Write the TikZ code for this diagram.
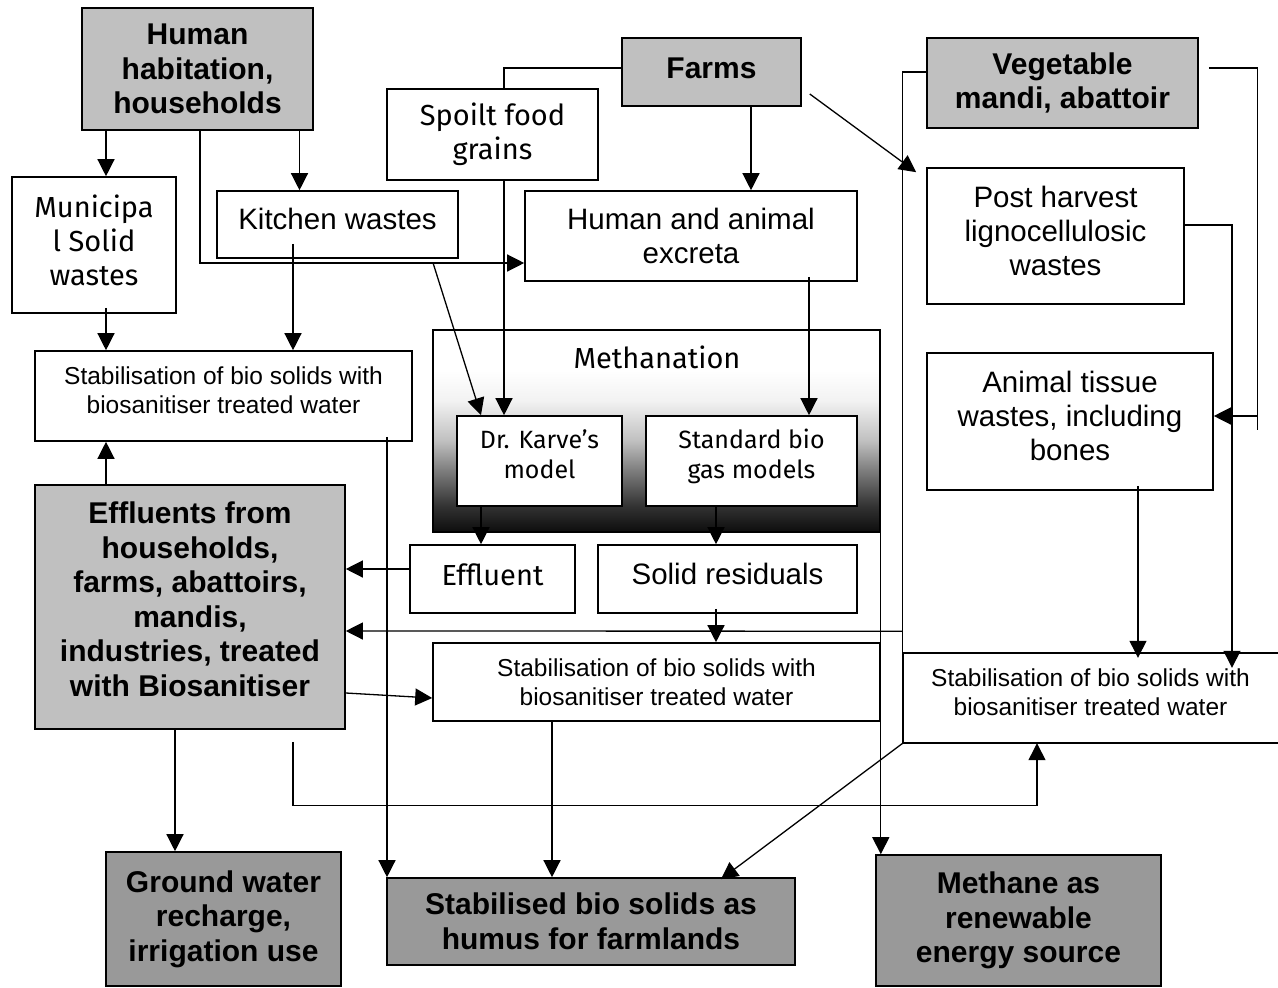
\documentclass[tikz,border=0pt]{standalone}
\usepackage{fontspec}
\setmainfont{Liberation Sans}
\newfontfamily\firafont{Fira Sans}
\usetikzlibrary{arrows.meta}
\definecolor{lightg}{HTML}{C0C0C0}
\definecolor{darkg}{HTML}{999999}
\pgfdeclareverticalshading{methshade}{100bp}{color(0bp)=(black); color(25bp)=(black!95); color(31.5bp)=(black!80); color(40.5bp)=(black!50); color(47.5bp)=(black!25); color(57.5bp)=(black!5); color(65bp)=(white); color(100bp)=(white)}
\newcommand\lift[1]{\rule[-#1]{0pt}{#1}}
\tikzset{
  base/.style={inner sep=0pt, align=center},
  bx/.style={base, draw=black, line width=1.6pt, fill=white},
  gbox/.style={bx, fill=lightg, font=\bfseries\fontsize{30}{34.5}\selectfont},
  dbox/.style={bx, fill=darkg, font=\bfseries\fontsize{30}{34.5}\selectfont},
  atext/.style={font=\fontsize{29.5}{34}\selectfont},
  ftext/.style={font=\firafont\fontsize{29}{34}\selectfont},
  fstext/.style={font=\firafont\fontsize{25}{30}\selectfont},
  stext/.style={font=\fontsize{24.5}{29}\selectfont},
  ln/.style={line width=1.3pt},
  arr/.style={line width=1.3pt, -{Triangle[length=17pt,width=17pt]}},
  edge/.style={line width=1.6pt}
}
\begin{document}
\begin{tikzpicture}[x=1pt,y=-1pt]
\useasboundingbox (0,0) rectangle (1278,988);

% methanation container
\node[base, draw=black, line width=1.6pt, shade, shading=methshade, minimum width=447, minimum height=202] (meth) at (656.5,431) {};
\node[base, ftext] (methtitle) at (657,357) {Methanation};

% boxes
\node[gbox, minimum width=231, minimum height=122] (hh) at (197.5,69) {Human\\habitation,\\households};
\node[bx, ftext, minimum width=164, minimum height=136] (msw) at (94,245) {Municipa\\l Solid\\wastes\lift{10pt}};
\node[bx, atext, minimum width=241, minimum height=67] (kw) at (337.5,224.5) {Kitchen wastes\lift{12pt}};
\node[bx, ftext, minimum width=211, minimum height=91] (sfg) at (492.5,134.5) {Spoilt food\\grains};
\node[gbox, minimum width=179, minimum height=68] (farms) at (711.5,72) {Farms\lift{8pt}};
\node[bx, atext, minimum width=332, minimum height=90] (hae) at (691,236) {Human and animal\\excreta};
\node[gbox, minimum width=271, minimum height=90] (vm) at (1062.5,83) {Vegetable\\mandi, abattoir};
\node[bx, atext, minimum width=257, minimum height=136] (ph) at (1055.5,236) {Post harvest\\lignocellulosic\\wastes\lift{10pt}};
\node[bx, atext, minimum width=286, minimum height=137] (at) at (1070,421.5) {Animal tissue\\wastes, including\\bones\lift{12pt}};
\node[bx, stext, minimum width=377, minimum height=90] (st1) at (223.5,396) {Stabilisation of bio solids with\\biosanitiser treated water\lift{12pt}};
\node[bx, fstext, minimum width=165, minimum height=90] (dk) at (539.5,461) {Dr. Karve’s\\model\lift{14pt}};
\node[bx, fstext, minimum width=211, minimum height=90] (sb) at (751.5,461) {Standard bio\\gas models\lift{15pt}};
\node[bx, ftext, minimum width=165, minimum height=68] (ef) at (492.5,579) {Effluent\lift{8pt}};
\node[bx, atext, minimum width=259, minimum height=68] (sr) at (727.5,579) {Solid residuals\lift{10pt}};
\node[gbox, minimum width=310, minimum height=244] (efh) at (190,607) {Effluents from\\households,\\farms, abattoirs,\\mandis,\\industries, treated\\with Biosanitiser\lift{16pt}};
\node[bx, stext, minimum width=447, minimum height=78] (st2) at (656.5,682) {Stabilisation of bio solids with\\biosanitiser treated water};
\node[base, stext, minimum width=375, minimum height=90] (st3) at (1090.5,698) {Stabilisation of bio solids with\\biosanitiser treated water\lift{12pt}};
\draw[edge] (st3.north east) -- (st3.north west) -- (st3.south west) -- (st3.south east);
\node[dbox, minimum width=235, minimum height=134] (gw) at (223.5,919) {Ground water\\recharge,\\irrigation use};
\node[dbox, minimum width=408, minimum height=87] (sbs) at (591,921.5) {Stabilised bio solids as\\humus for farmlands};
\node[dbox, minimum width=285, minimum height=131] (mth) at (1018.5,920.5) {Methane as\\renewable\\energy source};

% connectors
\draw[arr] ([xshift=12]msw.north |- hh.south) -- ([xshift=12]msw.north);
\draw[arr] ([xshift=-38]kw.north |- hh.south) -- ([xshift=-38]kw.north);
\draw[arr] ([xshift=2.5]hh.south) |- ([yshift=-27]hae.west);
\draw[arr] ([xshift=39.5]farms.south) -- ([xshift=39.5]farms.south |- hae.north);
\draw[ln] ([yshift=4]farms.west) -| ([xshift=11.5]sfg.north);
\draw[arr] ([xshift=11.5]sfg.south) -- ([xshift=11.5]sfg.south |- dk.north);
\draw[arr] ([xshift=95.5,yshift=-4]kw.south) -- ([xshift=-58.5]dk.north);
\draw[arr] ([xshift=-44.5,yshift=15]kw.south) -- ([xshift=-44.5]kw.south |- st1.north);
\draw[arr] ([xshift=12,yshift=6]msw.south) -- ([xshift=12]msw.south |- st1.north);
\draw[arr] ([xshift=118,yshift=5]hae.south) -- ([xshift=118]hae.south |- sb.north);
\draw[arr] ([xshift=8,yshift=-22]farms.east) -- ([xshift=-10,yshift=-5]ph.north west);
\draw[ln] ([yshift=11]vm.west) -| (st3.south west);
\draw[ln] ([xshift=10,yshift=15]vm.east) -| ([xshift=44,yshift=-8.5]at.east);
\draw[arr] ([xshift=44,yshift=5.5]at.east) -- ([yshift=5.5]at.east);
\draw[arr] ([yshift=11]ph.east) -| ([xshift=141.5,yshift=-15]st3.north);
\draw[arr] ([xshift=68,yshift=5]at.south) -- ([xshift=47.5,yshift=-5]st3.north);
\draw[arr] ([xshift=-58.5]dk.south) -- ([xshift=-58.5]dk.south |- ef.north);
\draw[arr] ([xshift=-35.5]sb.south) -- ([xshift=-35.5]sb.south |- sr.north);
\draw[arr] ([xshift=-11.5,yshift=5]sr.south) -- ([xshift=-11.5]sr.south |- st2.north);
\draw[arr] ([yshift=10]ef.west) -- ([yshift=38]efh.east);
\draw[arr] ([yshift=112]st3.south west) -- ([yshift=-24]efh.east);
\draw[arr] ([yshift=-86]efh.east) -- ([yshift=-16]st2.west);
\draw[arr] ([xshift=-84]efh.north) -- ([xshift=-84]efh.north |- st1.south);
\draw[arr] ([xshift=-15]efh.south) -- ([xshift=-15]efh.south |- gw.north);
\draw[arr] ([xshift=163.5,yshift=5]st1.south) -- ([xshift=163.5]st1.south |- sbs.north);
\draw[arr] ([xshift=-104.5]st2.south) -- ([xshift=-104.5]st2.south |- sbs.north);
\draw[arr] (st3.south west) -- ([xshift=130,yshift=-2]sbs.north);
\draw[arr] (meth.south east) -- (meth.south east |- mth.north);
\draw[arr] ([xshift=103,yshift=-12]efh.south) -- ([xshift=103,yshift=-76]efh.south) -| ([xshift=-53.5]st3.south);
\end{tikzpicture}
\end{document}
